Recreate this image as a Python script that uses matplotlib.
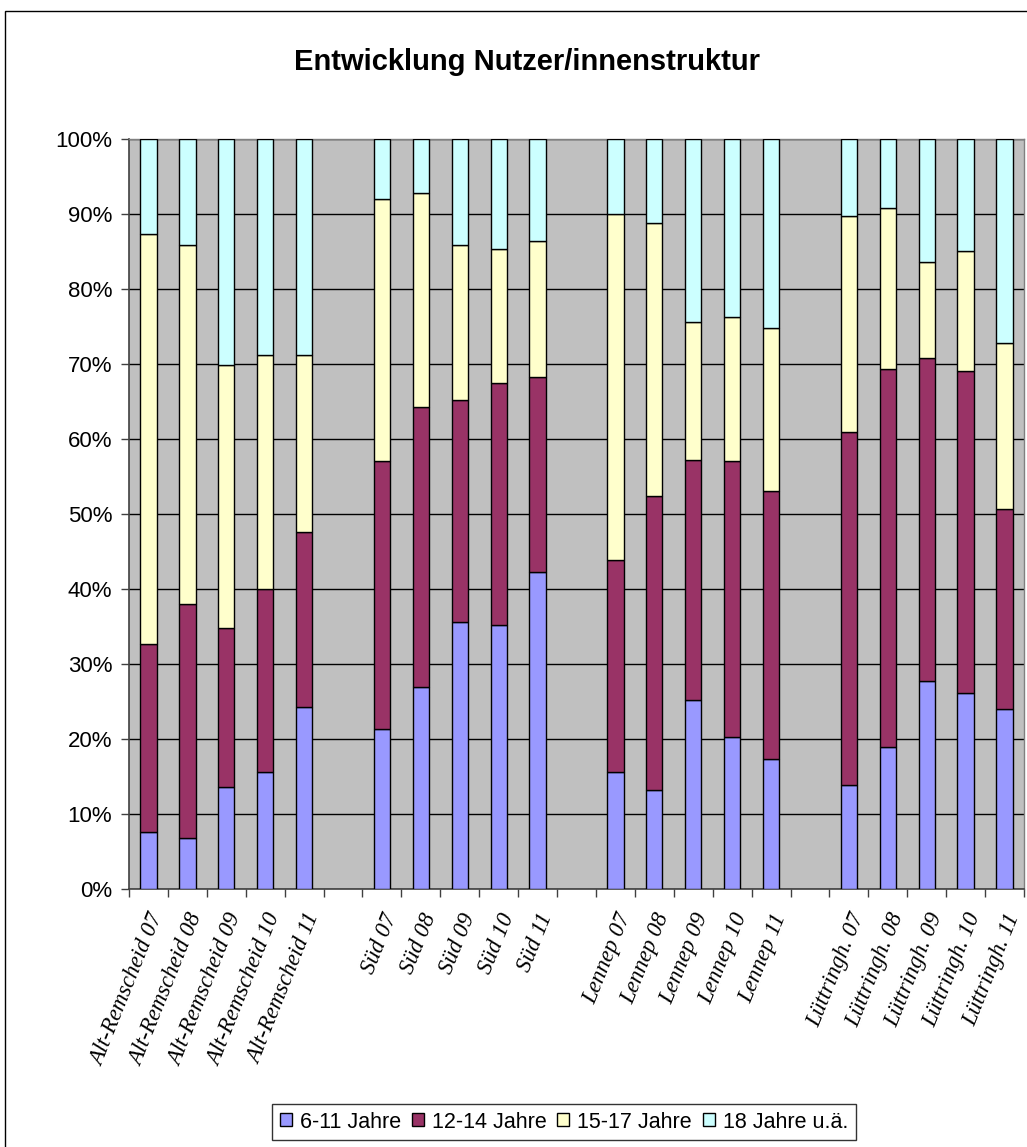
import numpy as np
import matplotlib
matplotlib.use("Agg")
import matplotlib.pyplot as plt
from matplotlib.patches import Rectangle
from matplotlib.ticker import MultipleLocator, FuncFormatter, FixedLocator

# Categories: four districts, five years each
districts = ["Alt-Remscheid", "Süd", "Lennep", "Lüttringh."]
years = ["07", "08", "09", "10", "11"]

# Share of users per age band (percent), in order of the categories
age_6_11 = [7.7, 6.9, 13.6, 15.7, 24.3,
            21.4, 27.0, 35.6, 35.3, 42.3,
            15.7, 13.3, 25.2, 20.3, 17.4,
            13.9, 19.0, 27.8, 26.2, 24.0]
age_12_14 = [25.0, 31.1, 21.2, 24.3, 23.3,
             35.7, 37.3, 29.7, 32.2, 26.0,
             28.2, 39.2, 32.1, 36.8, 35.7,
             47.1, 50.4, 43.1, 42.9, 26.7]
age_15_17 = [54.7, 47.9, 35.1, 31.2, 23.6,
             34.9, 28.5, 20.6, 17.9, 18.1,
             46.2, 36.3, 18.4, 19.2, 21.8,
             28.8, 21.5, 12.8, 16.0, 22.1]
age_18_plus = [12.6, 14.1, 30.1, 28.8, 28.8,
               8.0, 7.2, 14.1, 14.6, 13.6,
               9.9, 11.2, 24.3, 23.7, 25.1,
               10.2, 9.1, 16.3, 14.9, 27.2]

series_names = ["6-11 Jahre", "12-14 Jahre", "15-17 Jahre", "18 Jahre u.ä."]
series_colors = ["#9999FF", "#993366", "#FFFFCC", "#CCFFFF"]

# Category labels and slot positions (one empty slot between districts)
labels = []
positions = []
slot = 0
for d in districts:
    for y in years:
        labels.append(f"{d} {y}")
        positions.append(slot)
        slot += 1
    slot += 1
n_slots = slot - 1
positions = np.array(positions)

# Normalise each category to 100 %
data = np.array([age_6_11, age_12_14, age_15_17, age_18_plus], dtype=float)
shares = data / data.sum(axis=0) * 100.0

W, H = 1027, 1147
fig = plt.figure(figsize=(W / 100, H / 100), dpi=100)
fig.patch.set_facecolor("white")

# Outer chart border
fig.patches.append(Rectangle((5 / W, -0.05), 1.2, (H - 11) / H + 0.05,
                             transform=fig.transFigure, fill=False,
                             edgecolor="black", linewidth=1.0))

left, right = 129 / W, 1024 / W
top, bottom = 1 - 139.3 / H, 1 - 889.3 / H
ax = fig.add_axes([left, bottom, right - left, top - bottom])
ax.set_facecolor("#C0C0C0")

bottoms = np.zeros(len(labels))
for vals, name, col in zip(shares, series_names, series_colors):
    ax.bar(positions, vals, width=0.42, bottom=bottoms, color=col,
           edgecolor="black", linewidth=1.0, label=name, zorder=3)
    bottoms += vals

ax.set_xlim(-0.5, n_slots - 0.5)
ax.set_ylim(0, 100)

# Y axis: percent ticks and gridlines
ax.yaxis.set_major_locator(MultipleLocator(10))
ax.yaxis.set_major_formatter(FuncFormatter(lambda v, p: f"{int(v)}%"))
ax.grid(axis="y", color="black", linewidth=1.0, zorder=1)
ax.set_axisbelow(True)
ax.tick_params(axis="y", direction="out", length=6, width=1, color="#404040",
               labelsize=16, pad=6)
for t in ax.get_yticklabels():
    t.set_family("Liberation Sans")

# X axis: tick marks at slot boundaries, labels at bar centres
ax.xaxis.set_minor_locator(FixedLocator(np.arange(-0.5, n_slots, 1.0)))
ax.set_xticks(positions)
ax.set_xticklabels(labels, rotation=68, ha="right", rotation_mode="anchor",
                   family="Liberation Serif", style="italic", fontsize=16.5)
ax.tick_params(axis="x", which="major", length=0, pad=15)
ax.tick_params(axis="x", which="minor", direction="out", length=6, width=1,
               color="#404040")

for side in ["left", "bottom"]:
    ax.spines[side].set_color("#404040")
    ax.spines[side].set_linewidth(1.2)
for side in ["top", "right"]:
    ax.spines[side].set_color("#808080")
    ax.spines[side].set_linewidth(1.0)

fig.text(0.513, 1 - 62 / H, "Entwicklung Nutzer/innenstruktur",
         ha="center", va="center", family="Liberation Sans",
         fontweight="bold", fontsize=21)

leg = fig.legend(loc="center", bbox_to_anchor=(564 / W, 1 - 1122 / H),
                 ncol=4, frameon=True, fancybox=False, edgecolor="black",
                 prop={"family": "Liberation Sans", "size": 15.5},
                 handlelength=0.56, handleheight=0.56, handletextpad=0.37,
                 columnspacing=0.5, borderpad=0.35, borderaxespad=0)
leg.get_frame().set_linewidth(1.0)

fig.savefig("out.png", dpi=100)
